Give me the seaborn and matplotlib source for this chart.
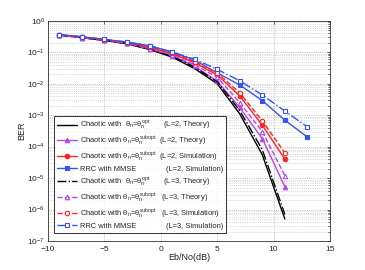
import matplotlib
matplotlib.use("Agg")
import matplotlib.pyplot as plt
import seaborn as sns
import numpy as np
from matplotlib.ticker import FixedLocator, NullFormatter, LogFormatterSciNotation

sns.set_theme(style="white")
plt.rcParams['font.family'] = ['Liberation Sans', 'DejaVu Sans']
plt.rcParams['mathtext.fontset'] = 'custom'
plt.rcParams['mathtext.rm'] = 'Liberation Sans'
plt.rcParams['mathtext.it'] = 'Liberation Sans'
plt.rcParams['mathtext.bf'] = 'Liberation Sans:bold'

# ---- data ----
snr = [-9, -7, -5, -3, -1, 1, 3, 5, 7, 9, 11]
snr_rrc = [-9, -7, -5, -3, -1, 1, 3, 5, 7, 9, 11, 13]

black_L2 = [0.35, 0.29, 0.235, 0.185, 0.122, 0.070, 0.030, 0.0100, 1.1e-3, 5.5e-5, 5.0e-7]
purple_L2 = [0.35, 0.29, 0.24, 0.19, 0.128, 0.078, 0.036, 0.012, 1.75e-3, 1.8e-4, 5.3e-6]
red_L2 = [0.355, 0.30, 0.245, 0.20, 0.14, 0.09, 0.046, 0.019, 4.1e-3, 4.8e-4, 4.0e-5]
blue_L2 = [0.36, 0.31, 0.255, 0.21, 0.16, 0.10, 0.056, 0.022, 9.1e-3, 2.9e-3, 6.9e-4, 2.0e-4]
black_L3 = [0.35, 0.29, 0.237, 0.188, 0.126, 0.074, 0.033, 0.0115, 1.4e-3, 8e-5, 7e-7]
purple_L3 = [0.35, 0.29, 0.24, 0.19, 0.13, 0.082, 0.040, 0.016, 2.5e-3, 3.0e-4, 1.2e-5]
red_L3 = [0.355, 0.30, 0.245, 0.20, 0.145, 0.094, 0.050, 0.022, 5.1e-3, 6.6e-4, 6.3e-5]
blue_L3 = [0.36, 0.31, 0.255, 0.21, 0.16, 0.102, 0.06, 0.0285, 1.23e-2, 4.4e-3, 1.35e-3, 4.2e-4]

x_ticks = [-10, -5, 0, 5, 10, 15]
y_ticks = [1e-7, 1e-6, 1e-5, 1e-4, 1e-3, 1e-2, 1e-1, 1e0]

opt = r"Chaotic with  $\theta_n$=$\theta_n^{opt}$"
sub = r"Chaotic with $\theta_n$=$\theta_n^{subopt}$"
rrc = "RRC with MMSE"
labels = [
    opt + "       (L=2, Theory)",
    sub + "  (L=2, Theory)",
    sub + "  (L=2, Simulation)",
    rrc + "              (L=2, Simulation)",
    opt + "       (L=3, Theory)",
    sub + "   (L=3, Theory)",
    sub + "   (L=3, Simulation)",
    rrc + "              (L=3, Simulation)",
]

BLACK = "#000000"
PURPLE = "#B844EE"
RED = "#FF2020"
BLUE = "#3355EE"

fig = plt.figure(figsize=(3.65, 2.70), dpi=100)
ax = fig.add_axes([0.1315, 0.1074, 0.7725, 0.8159])

series = [
    (snr, black_L2, BLACK, "-", None, True),
    (snr, purple_L2, PURPLE, "-", "^", True),
    (snr, red_L2, RED, "-", "o", True),
    (snr_rrc, blue_L2, BLUE, "-", "s", True),
    (snr, black_L3, BLACK, "-.", None, False),
    (snr, purple_L3, PURPLE, "--", "^", False),
    (snr, red_L3, RED, "--", "o", False),
    (snr_rrc, blue_L3, BLUE, "-.", "s", False),
]

for (xs, ys, c, ls, mk, filled), lab in zip(series, labels):
    kws = dict(color=c, linestyle=ls, linewidth=1.0, label=lab)
    if mk is not None:
        kws.update(marker=mk, markersize=3.2, markeredgecolor=c,
                   markeredgewidth=0.8,
                   markerfacecolor=(c if filled else "white"))
    sns.lineplot(x=xs, y=ys, ax=ax, **kws)

ax.set_yscale("log")
ax.set_xlim(-10, 15)
ax.set_ylim(1e-7, 1)
ax.xaxis.set_major_locator(FixedLocator(x_ticks))
ax.yaxis.set_major_locator(FixedLocator(y_ticks))
ax.yaxis.set_major_formatter(LogFormatterSciNotation())
minor = [m * 10.0 ** e for e in range(-7, 0) for m in range(2, 10)]
ax.yaxis.set_minor_locator(FixedLocator(minor))
ax.yaxis.set_minor_formatter(NullFormatter())

ax.grid(True, which="major", color="#aaaaaa", linestyle=":", linewidth=0.6)
ax.grid(True, which="minor", axis="y", color="#bbbbbb", linestyle=":", linewidth=0.5)

ax.tick_params(axis="both", which="both", direction="in", top=True, right=True,
               labelsize=6, length=2.5, width=0.5)
ax.tick_params(axis="x", pad=3.5)
ax.tick_params(axis="y", pad=2)
ax.tick_params(axis="y", which="minor", length=1.5)
for s in ax.spines.values():
    s.set_color("#333333")
    s.set_linewidth(0.6)

ax.set_xlabel("Eb/No(dB)", fontsize=6.5, labelpad=0)
ax.set_ylabel("BER", fontsize=6.5, labelpad=1)

leg = ax.legend(loc="lower left", bbox_to_anchor=(0.022, 0.038), fontsize=5.4,
                frameon=True, fancybox=False, edgecolor="black",
                handlelength=2.6, handletextpad=0.4, labelspacing=0.32,
                borderpad=0.4, borderaxespad=0)
leg.get_frame().set_linewidth(0.7)

fig.savefig("out.png", dpi=100)
